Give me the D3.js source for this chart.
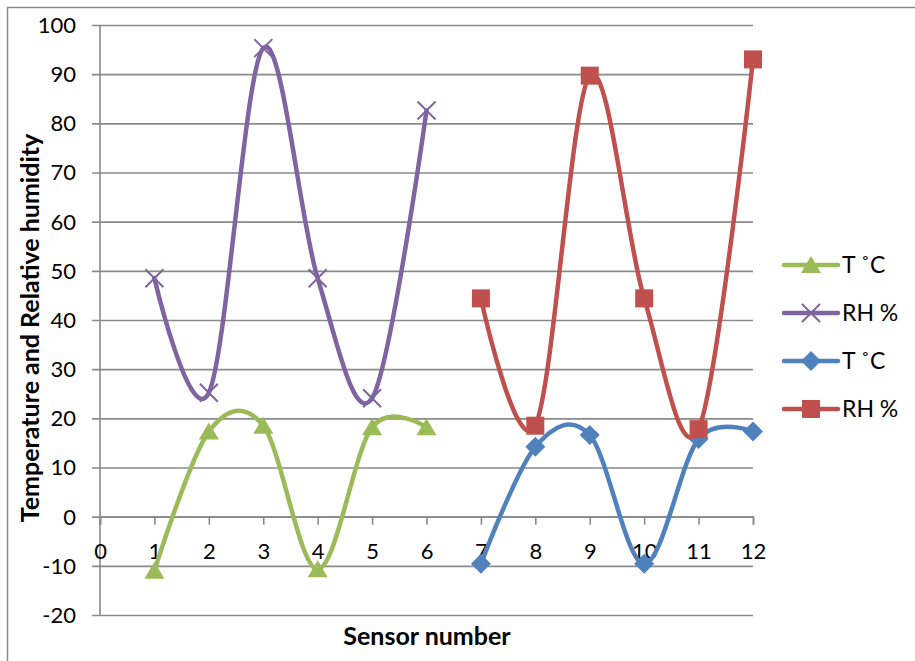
<!DOCTYPE html>
<html>
<head>
<meta charset="utf-8">
<script src="https://cdn.jsdelivr.net/npm/d3@7"></script>
<style>
  html, body { margin: 0; padding: 0; background: #fff; }
  svg { display: block; font-family: Lato, "Open Sans", "Liberation Sans", sans-serif; }
</style>
</head>
<body>
<svg id="chart" width="915" height="661"></svg>
<script>
// Sensor readings: temperature (°C) and relative humidity (%)
const sensorsA = [1, 2, 3, 4, 5, 6];
const sensorsB = [7, 8, 9, 10, 11, 12];
const tempA = [-11, 17.3, 18.5, -10.7, 18.2, 18.2];
const rhA   = [48.5, 25.2, 95.3, 48.5, 24.1, 82.6];
const tempB = [-9.6, 14.2, 16.6, -9.6, 15.8, 17.3];
const rhB   = [44.4, 18.5, 89.7, 44.4, 17.8, 93.0];

const xTicks = [0, 1, 2, 3, 4, 5, 6, 7, 8, 9, 10, 11, 12];
const yTicks = [-20, -10, 0, 10, 20, 30, 40, 50, 60, 70, 80, 90, 100];
const legendLabels = ["T ˚C", "RH %", "T ˚C", "RH %"];

const series = [
  { name: legendLabels[0], xs: sensorsA, ys: tempA, color: "#9BBB59", marker: "triangle" },
  { name: legendLabels[1], xs: sensorsA, ys: rhA,   color: "#8064A2", marker: "x" },
  { name: legendLabels[2], xs: sensorsB, ys: tempB, color: "#4F81BD", marker: "diamond" },
  { name: legendLabels[3], xs: sensorsB, ys: rhB,   color: "#C0504D", marker: "square" }
];

const svg = d3.select("#chart");
const gridColor = "#8a8a8a";

// chart frame
svg.append("path")
  .attr("d", "M7.5,661 V7.5 H915")
  .attr("fill", "none").attr("stroke", gridColor).attr("stroke-width", 1.5);

const x = d3.scaleLinear().domain([0, 12]).range([100, 753]);
const y = d3.scaleLinear().domain([-20, 100]).range([615, 25]);

// horizontal gridlines, extending left past the axis as tick stubs
const yAxis = d3.axisLeft(y).tickValues(yTicks).tickSize(753 - 92).tickFormat(d3.format("d"));
const gy = svg.append("g").attr("transform", "translate(753,0)").call(yAxis);
gy.select(".domain").remove();
gy.selectAll(".tick line").attr("stroke", gridColor).attr("stroke-width", 1.6);
gy.selectAll(".tick text").remove();

// y tick labels
svg.append("g").selectAll("text").data(yTicks).join("text")
  .attr("x", 76).attr("y", d => y(d)).attr("dy", "0.36em")
  .attr("text-anchor", "end").attr("font-size", 22).attr("fill", "#000")
  .text(d => d);

// vertical axis line
svg.append("line").attr("x1", x(0)).attr("x2", x(0)).attr("y1", y(100)).attr("y2", y(-20))
  .attr("stroke", gridColor).attr("stroke-width", 1.6);

// horizontal axis crossing at zero
const xAxis = d3.axisBottom(x).tickValues(xTicks).tickSize(8).tickFormat(d3.format("d"));
const gx = svg.append("g").attr("transform", `translate(0,${y(0)})`).call(xAxis);
gx.select(".domain").attr("stroke", gridColor).attr("stroke-width", 1.6);
gx.selectAll(".tick line").attr("stroke", gridColor).attr("stroke-width", 1.6);
gx.selectAll(".tick text").attr("font-size", 22).attr("fill", "#000")
  .attr("font-family", "Lato, 'Open Sans', sans-serif").attr("y", 34).attr("dy", "0.36em");

// axis titles
svg.append("text")
  .attr("transform", `translate(39,${(y(100) + y(-20)) / 2 + 8}) rotate(-90)`)
  .attr("text-anchor", "middle").attr("font-size", 25).attr("font-weight", "bold")
  .text("Temperature and Relative humidity");
svg.append("text")
  .attr("x", 427).attr("y", 645)
  .attr("text-anchor", "middle").attr("font-size", 25).attr("font-weight", "bold")
  .text("Sensor number");

// marker drawing
function drawMarker(g, kind, color) {
  if (kind === "triangle") {
    g.append("path").attr("d", "M0,-9 L10,8 L-10,8 Z").attr("fill", color);
  } else if (kind === "square") {
    g.append("rect").attr("x", -9).attr("y", -9).attr("width", 18).attr("height", 18).attr("fill", color);
  } else if (kind === "diamond") {
    g.append("path").attr("d", "M0,-10 L10,0 L0,10 L-10,0 Z").attr("fill", color);
  } else if (kind === "x") {
    g.append("path").attr("d", "M-9,-9 L9,9 M-9,9 L9,-9")
      .attr("stroke", color).attr("stroke-width", 2).attr("fill", "none");
  }
}

const line = d3.line()
  .x(d => x(d[0])).y(d => y(d[1]))
  .curve(d3.curveCardinal.tension(0));

series.forEach(s => {
  const pts = s.xs.map((v, i) => [v, s.ys[i]]);
  svg.append("path").datum(pts)
    .attr("d", line)
    .attr("fill", "none").attr("stroke", s.color)
    .attr("stroke-width", 4.5).attr("stroke-linejoin", "round").attr("stroke-linecap", "round");
  svg.append("g").selectAll("g").data(pts).join("g")
    .attr("transform", d => `translate(${x(d[0])},${y(d[1])})`)
    .each(function () { drawMarker(d3.select(this), s.marker, s.color); });
});

// legend
const legY = [265, 313, 361, 409];
series.forEach((s, i) => {
  const g = svg.append("g").attr("transform", `translate(0,${legY[i]})`);
  g.append("line").attr("x1", 784).attr("x2", 838).attr("y1", 0).attr("y2", 0)
    .attr("stroke", s.color).attr("stroke-width", 4.5).attr("stroke-linecap", "round");
  drawMarker(g.append("g").attr("transform", "translate(811,0)"), s.marker, s.color);
  g.append("text").attr("x", 842).attr("y", 0).attr("dy", "0.36em")
    .attr("font-size", 23).text(s.name);
});
</script>
</body>
</html>
